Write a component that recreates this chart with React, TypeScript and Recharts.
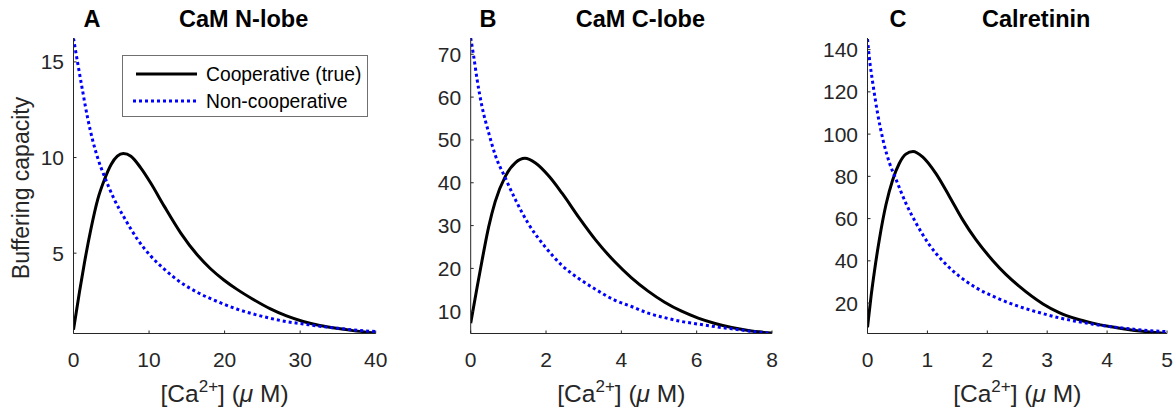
import React from 'react';
import { LineChart, Line, XAxis, YAxis, Legend } from 'recharts';

// values: [Ca2+] (uM), buffering capacity
const nLobeCoop: [number, number][] = [
  [0, 1.0], [0.8, 3.0], [1.45, 4.5], [2.3, 6.25], [3.2, 7.8], [4.1, 8.85], [5.0, 9.65],
  [5.8, 10.07], [6.6, 10.21], [7.6, 10.07], [8.9, 9.46], [10.2, 8.68], [12.0, 7.46],
  [14.2, 6.05], [16.4, 4.9], [18.1, 4.2], [19.9, 3.6], [21.6, 3.12], [23.8, 2.58],
  [26.0, 2.1], [28.2, 1.72], [30.4, 1.43], [32.6, 1.22], [34.8, 1.07], [37.0, 0.95], [40, 0.82],
];
const nLobeNonCoop: [number, number][] = [
  [0, 16.23], [0.56, 14.93], [1.22, 13.45], [1.88, 12.05], [2.54, 10.9], [3.2, 9.98],
  [4.08, 9.03], [5.4, 7.81], [6.71, 6.86], [8.46, 5.73], [10.2, 4.86], [12.0, 4.17],
  [14.2, 3.47], [16.4, 2.95], [19.3, 2.43], [21.6, 2.08], [23.8, 1.82], [26.0, 1.6],
  [28.2, 1.42], [30.4, 1.3], [32.6, 1.18], [34.8, 1.08], [37.0, 0.99], [40, 0.9],
];
const cLobeCoop: [number, number][] = [
  [0, 7.2], [0.17, 15.6], [0.3, 21.8], [0.48, 29.8], [0.65, 35.6], [0.92, 41.5],
  [1.19, 44.7], [1.44, 45.7], [1.72, 44.6], [2.08, 41.5], [2.43, 37.5], [2.88, 31.8],
  [3.32, 26.6], [3.82, 21.6], [4.27, 17.8], [4.71, 14.7], [5.15, 12.1], [5.6, 10.0],
  [6.04, 8.4], [6.49, 7.15], [6.93, 6.2], [7.37, 5.5], [8.0, 4.9],
];
const cLobeNonCoop: [number, number][] = [
  [0, 73.8], [0.08, 69.5], [0.17, 64.1], [0.3, 57.8], [0.48, 51.6], [0.65, 46.5],
  [0.92, 41.1], [1.19, 36.0], [1.52, 30.6], [1.97, 25.1], [2.41, 20.8], [2.86, 17.7],
  [3.3, 15.2], [3.82, 12.6], [4.27, 11.1], [4.71, 9.55], [5.15, 8.5], [5.6, 7.6],
  [6.04, 7.0], [6.49, 6.4], [6.93, 5.9], [7.37, 5.4], [8.0, 4.8],
];
const calretininCoop: [number, number][] = [
  [0, 8.5], [0.06, 23.3], [0.12, 35.9], [0.2, 50.5], [0.31, 66.8], [0.42, 78.3],
  [0.53, 86.1], [0.64, 90.5], [0.76, 91.8], [0.92, 89.2], [1.14, 81.4], [1.37, 70.4],
  [1.59, 59.4], [1.81, 50.0], [2.09, 40.2], [2.31, 33.6], [2.53, 28.0], [2.93, 19.6],
  [3.2, 15.5], [3.48, 12.6], [3.76, 10.5], [4.04, 8.9], [4.32, 7.65], [4.59, 6.65], [4.98, 5.6],
];
const calretininNonCoop: [number, number][] = [
  [0, 145], [0.03, 136.3], [0.09, 123.8], [0.17, 109.6], [0.26, 97.1], [0.37, 86.1],
  [0.48, 78.3], [0.64, 67.3], [0.81, 57.9], [1.03, 47.7], [1.26, 39.8], [1.53, 32.8],
  [1.81, 27.3], [2.09, 23.3], [2.37, 20.0], [2.65, 17.3], [2.93, 15.0], [3.2, 13.0],
  [3.48, 11.4], [3.76, 10.0], [4.04, 8.9], [4.32, 8.0], [4.59, 7.2], [5.0, 6.5],
];

const panelLetters = ['A', 'B', 'C'];
const panelTitles = ['CaM N-lobe', 'CaM C-lobe', 'Calretinin'];
const seriesNames = ['Cooperative (true)', 'Non-cooperative'];
const xTicks = [[0, 10, 20, 30, 40], [0, 2, 4, 6, 8], [0, 1, 2, 3, 4, 5]];
const yTicks = [[5, 10, 15], [10, 20, 30, 40, 50, 60, 70], [20, 40, 60, 80, 100, 120, 140]];
const xDomains = [[0, 40], [0, 8], [0, 5]];
const yDomains = [[0.8, 16.25], [4.8, 73.8], [5.6, 145.5]];

const FONT = '"Liberation Sans", Arial, Helvetica, sans-serif';
const AXIS = '#262626';

// chart frames: page offset, svg width, plot left/right
const frames = [
  { left: 0, width: 400, plotL: 73.5, plotR: 375.7 },
  { left: 400, width: 390, plotL: 470.7, plotR: 772 },
  { left: 790, width: 385, plotL: 867.5, plotR: 1167 },
];
const PLOT_TOP = 38;
const PLOT_BOTTOM = 333.5;
const H = 413;
const Y_AXIS_W = 50;
const X_AXIS_H = 40;

const toRows = (pts: [number, number][]) => pts.map(([x, y]) => ({ x, y }));

const XTick = (props: any) => {
  const { x, y, payload } = props;
  return (
    <g>
      <line x1={x} x2={x} y1={y} y2={y - 3} stroke={AXIS} />
      <text x={x} y={y + 33.5} textAnchor="middle" fontSize={21} fill={AXIS} fontFamily={FONT}>
        {payload.value}
      </text>
    </g>
  );
};

const YTick = (props: any) => {
  const { x, y, payload } = props;
  return (
    <g>
      <line x1={x} x2={x + 3} y1={y} y2={y} stroke={AXIS} />
      <text x={x - 9.5} y={y + 7.5} textAnchor="end" fontSize={21} fill={AXIS} fontFamily={FONT}>
        {payload.value}
      </text>
    </g>
  );
};

const LegendBox = () => (
  <div style={{ border: '1px solid #707070', background: '#fff', width: 244, height: 60 }}>
    <svg width={244} height={60} style={{ display: 'block' }}>
      <line x1={13} x2={74} y1={18} y2={18} stroke="#000" strokeWidth={3} />
      <text x={83} y={25} fontSize={19.3} fill="#000" fontFamily={FONT}>{seriesNames[0]}</text>
      <line x1={10} x2={74} y1={45} y2={45} stroke="#0000ff" strokeWidth={3} strokeDasharray="3 3" />
      <text x={83} y={52} fontSize={19.3} fill="#000" fontFamily={FONT}>{seriesNames[1]}</text>
    </svg>
  </div>
);

const series = [
  [nLobeCoop, nLobeNonCoop],
  [cLobeCoop, cLobeNonCoop],
  [calretininCoop, calretininNonCoop],
];

export default function App() {
  return (
    <div style={{ position: 'absolute', left: 0, top: 0, width: 1175, height: H, background: '#fff', fontFamily: FONT }}>
      {frames.map((f, i) => (
        <div key={i} style={{ position: 'absolute', left: f.left, top: 0 }}>
          <LineChart
            width={f.width}
            height={H}
            margin={{
              top: PLOT_TOP,
              bottom: H - PLOT_BOTTOM - X_AXIS_H,
              left: f.plotL - f.left - Y_AXIS_W,
              right: f.left + f.width - f.plotR,
            }}
          >
            <XAxis
              type="number"
              dataKey="x"
              domain={xDomains[i]}
              ticks={xTicks[i]}
              allowDataOverflow
              height={X_AXIS_H}
              tickSize={0}
              tickMargin={0}
              tickLine={false}
              axisLine={{ stroke: AXIS }}
              tick={<XTick />}
              interval={0}
            />
            <YAxis
              type="number"
              dataKey="y"
              domain={yDomains[i]}
              ticks={yTicks[i]}
              allowDataOverflow
              width={Y_AXIS_W}
              tickSize={0}
              tickMargin={0}
              tickLine={false}
              axisLine={{ stroke: AXIS }}
              tick={<YTick />}
              interval={0}
            />
            <Line
              data={toRows(series[i][0])}
              dataKey="y"
              name={seriesNames[0]}
              type="monotone"
              stroke="#000000"
              strokeWidth={3}
              dot={false}
              activeDot={false}
              isAnimationActive={false}
            />
            <Line
              data={toRows(series[i][1])}
              dataKey="y"
              name={seriesNames[1]}
              type="monotone"
              stroke="#0000ff"
              strokeWidth={3}
              strokeDasharray="3 3"
              dot={false}
              activeDot={false}
              isAnimationActive={false}
            />
            {i === 0 && (
              <Legend
                layout="vertical"
                align="center"
                verticalAlign="middle"
                content={<LegendBox />}
                wrapperStyle={{ left: 122, top: 55, width: 246, height: 62 }}
              />
            )}
          </LineChart>
        </div>
      ))}
      <svg width={1175} height={H} style={{ position: 'absolute', left: 0, top: 0, pointerEvents: 'none' }}>
        {frames.map((f, i) => {
          const cx = (f.plotL + f.plotR) / 2;
          const letterX = [92, 488, 898][i];
          return (
            <g key={i} fontFamily={FONT}>
              <text x={letterX} y={27} textAnchor="middle" fontSize={23.5} fontWeight="bold" fill="#000">
                {panelLetters[i]}
              </text>
              <text x={cx + 19} y={27} textAnchor="middle" fontSize={23.5} fontWeight="bold" fill="#000">
                {panelTitles[i]}
              </text>
              <text x={cx} y={402} textAnchor="middle" fontSize={24.5} fill={AXIS}>
                [Ca<tspan dy={-10} fontSize={17}>2+</tspan>
                <tspan dy={10}>] (</tspan>
                <tspan fontStyle="italic">μ</tspan>
                <tspan> M)</tspan>
              </text>
            </g>
          );
        })}
        <text
          transform="translate(29,188) rotate(-90)"
          textAnchor="middle"
          fontSize={23}
          fill={AXIS}
          fontFamily={FONT}
        >
          Buffering capacity
        </text>
      </svg>
    </div>
  );
}
